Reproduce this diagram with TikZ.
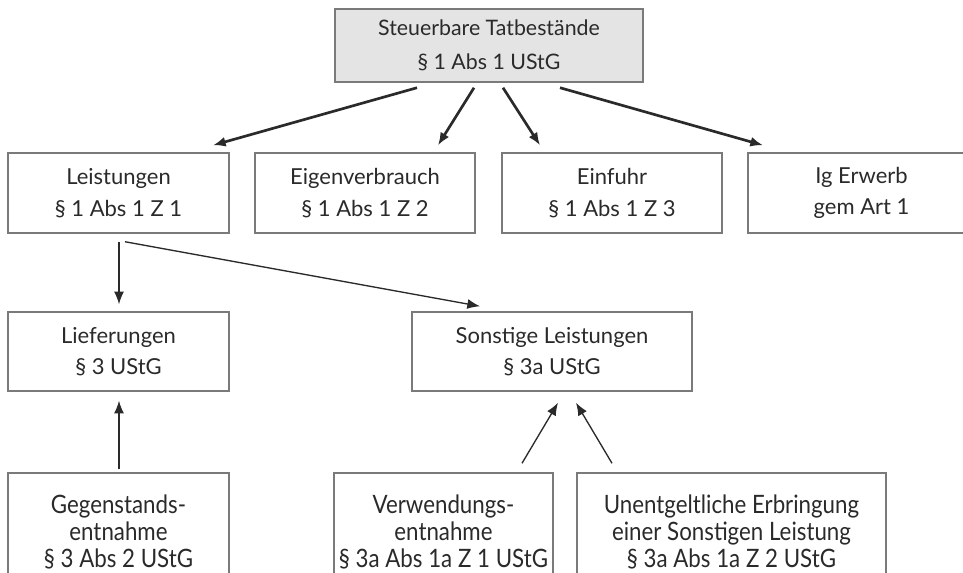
\documentclass[tikz,border=0pt]{standalone}
\usepackage{fontspec}
\setmainfont{Lato}
\newfontfamily\condfont[FakeStretch=0.88]{Lato}
\usetikzlibrary{arrows.meta,calc}
\definecolor{txt}{HTML}{2A2A2A}
\definecolor{bord}{HTML}{7A7A7A}
\definecolor{topfill}{HTML}{E4E4E4}
\begin{document}
\begin{tikzpicture}[x=0.75pt,y=-0.75pt,
  box/.style={draw=bord,line width=1.1pt,fill=white,inner sep=0pt,align=center,
    text=txt,font=\fontsize{16.5}{23.5}\selectfont,minimum height=60pt},
  lowbox/.style={box,font=\condfont\fontsize{19}{20.25}\selectfont,minimum height=88.5pt},
  conn/.style={draw=txt,line width=1pt,-{Latex[length=9.5pt,width=7.5pt]}},
  thickconn/.style={conn,line width=2pt}]
\fill[white] (0,0) rectangle (963,572);
\clip (0,0) rectangle (963,572);
\node[box,fill=topfill,minimum width=231pt,minimum height=54.75pt,
  font=\fontsize{16}{25.5}\selectfont] (top) at (489,45.5) {Steuerbare Tatbestände\\§ 1 Abs 1 UStG};
\node[box,minimum width=165.75pt] (lei) at (118.5,193) {Leistungen\\§ 1 Abs 1 Z 1};
\node[box,minimum width=165pt] (eig) at (365,193) {Eigenverbrauch\\§ 1 Abs 1 Z 2};
\node[box,minimum width=165pt] (ein) at (612,193) {Einfuhr\\§ 1 Abs 1 Z 3};
\node[box,minimum width=170.25pt] (ig) at (861.5,193) {Ig Erwerb\\gem Art 1};
\node[box,minimum width=165.75pt,minimum height=59.25pt] (lief) at (118.5,351.5) {Lieferungen\\§ 3 UStG};
\node[box,minimum width=210pt,minimum height=59.25pt] (son) at (552,351.5) {Sonstige Leistungen\\§ 3a UStG};
\node[lowbox,minimum width=165.75pt] (geg) at (118.5,532) {Gegenstands-\\entnahme\\§ 3 Abs 2 UStG};
\node[lowbox,minimum width=164.25pt] (ver) at (443.5,532) {Verwendungs-\\entnahme\\§ 3a Abs 1a Z 1 UStG};
\node[lowbox,minimum width=231.75pt] (une) at (731.5,532) {Unentgeltliche Erbringung\\einer Sonstigen Leistung\\§ 3a Abs 1a Z 2 UStG};
% top arrows
\draw[thickconn] ($(top.south)+(-72,5)$) -- ($(lei.north)+(94.5,-7)$);
\draw[thickconn] ($(top.south)+(-15,5)$) -- ($(eig.north)+(73,-7)$);
\draw[thickconn] ($(top.south)+(14,5)$) -- ($(ein.north)+(-72,-7)$);
\draw[thickconn] ($(top.south)+(71,5)$) -- ($(ig.north)+(-98.5,-7)$);
% row 2 to row 3
\draw[conn] ($(lei.south)+(0.5,8)$) -- ($(lief.north)+(0.5,-7)$);
\draw[conn] ($(lei.south)+(6.5,8)$) -- ($(son.north)+(-72,-5)$);
% row 4 to row 3
\draw[conn] ($(geg.north)+(0.5,-3)$) -- ($(lief.south)+(0.5,9)$);
\draw[conn] ($(ver.north)+(78.5,-9)$) -- ($(son.south)+(6,11)$);
\draw[conn] ($(une.north)+(-119.5,-9)$) -- ($(son.south)+(24,11)$);
\end{tikzpicture}
\end{document}
